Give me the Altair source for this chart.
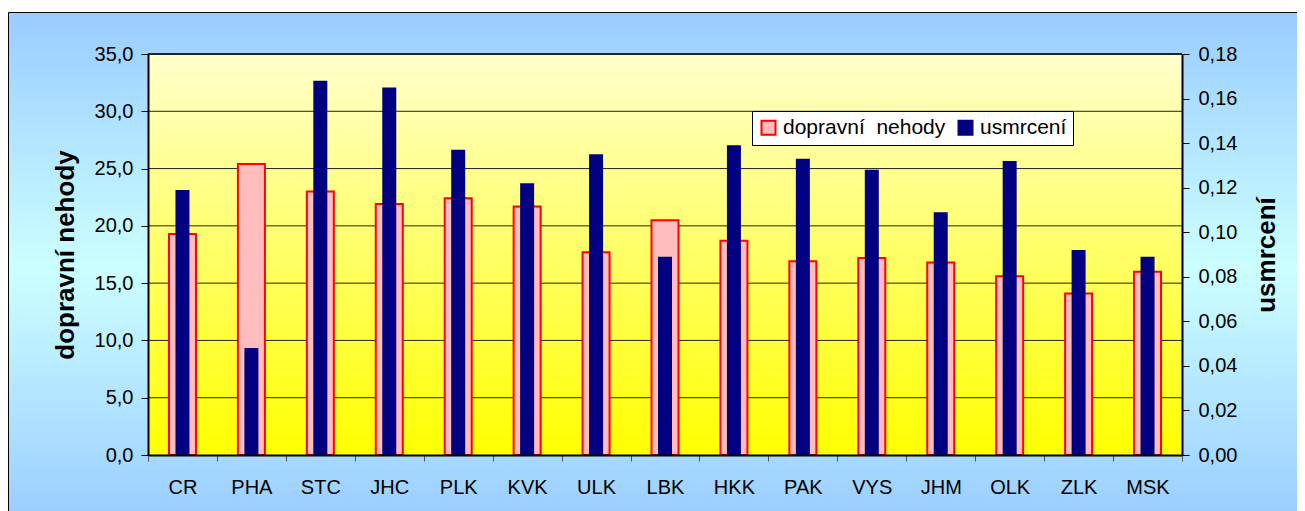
import altair as alt
import pandas as pd

# ---- data ----
kraje = ["CR", "PHA", "STC", "JHC", "PLK", "KVK", "ULK", "LBK", "HKK", "PAK",
         "VYS", "JHM", "OLK", "ZLK", "MSK"]
nehody = [19.3, 25.4, 23.0, 21.9, 22.4, 21.7, 17.7, 20.5, 18.7, 16.9,
          17.2, 16.8, 15.6, 14.1, 16.0]
usmrceni = [0.119, 0.048, 0.168, 0.165, 0.137, 0.122, 0.135, 0.089, 0.139, 0.133,
            0.128, 0.109, 0.132, 0.092, 0.089]
ticks_left = [0, 5, 10, 15, 20, 25, 30, 35]
ticks_right = [0.0, 0.02, 0.04, 0.06, 0.08, 0.10, 0.12, 0.14, 0.16, 0.18]
serie = ["dopravní\u00a0 nehody", "usmrcení"]

W, H = 1034, 401
FONT = "Liberation Sans"

df = pd.DataFrame({"kraj": kraje, "nehody": nehody, "usmrceni": usmrceni})
grid_df = pd.DataFrame({"nehody": ticks_left[1:]})

x_enc = alt.X(
    "kraj:N", sort=kraje,
    scale=alt.Scale(paddingInner=0, paddingOuter=0),
    axis=alt.Axis(title=None, labelAngle=0, labelFontSize=20, labelFont=FONT,
                  labelColor="black", labelPadding=16, tickSize=6, tickColor="#555555",
                  tickBand="extent", domainColor="black", domainWidth=2, zindex=1),
)

left_axis = alt.Axis(values=ticks_left,
                     labelExpr="replace(format(datum.value, '.1f'), '.', ',')",
                     title="dopravní nehody", titleFontSize=26, titleFont=FONT,
                     titleFontWeight="bold", titleColor="black", titleAngle=270,
                     titleX=-75, titleY=H / 2, titleBaseline="alphabetic",
                     titleAlign="center",
                     labelFontSize=20, labelFont=FONT, labelColor="black",
                     labelPadding=8, tickSize=7, tickColor="black",
                     domainColor="black", domainWidth=2, grid=False, zindex=1)
left_scale = alt.Scale(domain=[0, 35])

color_scale = alt.Scale(domain=serie, range=["#FFBDBD", "#000080"])
stroke_scale = alt.Scale(domain=serie, range=["#FF0000", "#000080"])

legend = alt.Legend(
    orient="none", legendX=604, legendY=57, direction="horizontal", columns=2,
    title=None, fillColor="white", strokeColor="black", padding=6,
    symbolType="square", symbolSize=196, symbolStrokeWidth=2, symbolOpacity=1,
    labelFontSize=21, labelFont=FONT, labelColor="black", labelOffset=4,
    labelLimit=400, columnPadding=8,
)

outer_bg = alt.Chart(alt.Data(values=[{}])).mark_rect(
    fill=alt.Gradient(
        gradient="linear", x1=0, x2=0, y1=0, y2=1,
        stops=[alt.GradientStop(color="#99CCFF", offset=0),
               alt.GradientStop(color="#CCFFFF", offset=0.5),
               alt.GradientStop(color="#99CCFF", offset=1)]),
    stroke="black", strokeWidth=1,
).encode(x=alt.value(-139.5), x2=alt.value(1200), y=alt.value(-41.5), y2=alt.value(470))

plot_bg = alt.Chart(alt.Data(values=[{}])).mark_rect(
    fill=alt.Gradient(
        gradient="linear", x1=0, x2=0, y1=0, y2=1,
        stops=[alt.GradientStop(color="#FFFFCC", offset=0),
               alt.GradientStop(color="#FFFF00", offset=1)]),
    strokeWidth=0,
).encode(x=alt.value(0), x2=alt.value(W), y=alt.value(0), y2=alt.value(H))

grid = alt.Chart(grid_df).mark_rule(color="#222222").encode(
    y=alt.Y("nehody:Q", scale=left_scale, axis=left_axis),
    x=alt.value(0), x2=alt.value(W),
    strokeWidth=alt.condition("datum.nehody == 35", alt.value(2), alt.value(1)),
)

pink = alt.Chart(df).transform_calculate(
    serie="'" + serie[0] + "'"
).mark_bar(width=27, strokeWidth=2).encode(
    x=x_enc,
    y=alt.Y("nehody:Q", scale=left_scale, axis=left_axis),
    color=alt.Color("serie:N", scale=color_scale, legend=legend),
    stroke=alt.Stroke("serie:N", scale=stroke_scale, legend=legend),
)

navy = alt.Chart(df).transform_calculate(
    serie="'" + serie[1] + "'"
).mark_bar(width=14, strokeWidth=0).encode(
    x=x_enc,
    y=alt.Y("usmrceni:Q", scale=alt.Scale(domain=[0, 0.18]),
            axis=alt.Axis(orient="right", values=ticks_right,
                          labelExpr="replace(format(datum.value, '.2f'), '.', ',')",
                          title="usmrcení", titleFontSize=26, titleFont=FONT,
                          titleFontWeight="bold", titleColor="black", titleAngle=270,
                          titleX=92, titleY=H / 2, titleBaseline="alphabetic",
                          titleAlign="center",
                          labelFontSize=20, labelFont=FONT, labelColor="black",
                          labelPadding=9, tickSize=7, tickColor="black",
                          domainColor="black", domainWidth=2, grid=False, zindex=1)),
    color=alt.Color("serie:N", scale=color_scale, legend=legend),
    stroke=alt.Stroke("serie:N", scale=stroke_scale, legend=legend),
)

left = alt.layer(outer_bg, plot_bg, grid, pink)
chart = (
    alt.layer(left, navy)
    .resolve_scale(y="independent")
    .properties(width=W, height=H,
                padding={"left": 140, "top": 46, "right": 115, "bottom": 56},
                autosize=alt.AutoSizeParams(type="none"))
    .configure(background="white")
    .configure_view(stroke=None)
)

chart.save("out.html", embed_options={"renderer": "svg", "actions": False})
